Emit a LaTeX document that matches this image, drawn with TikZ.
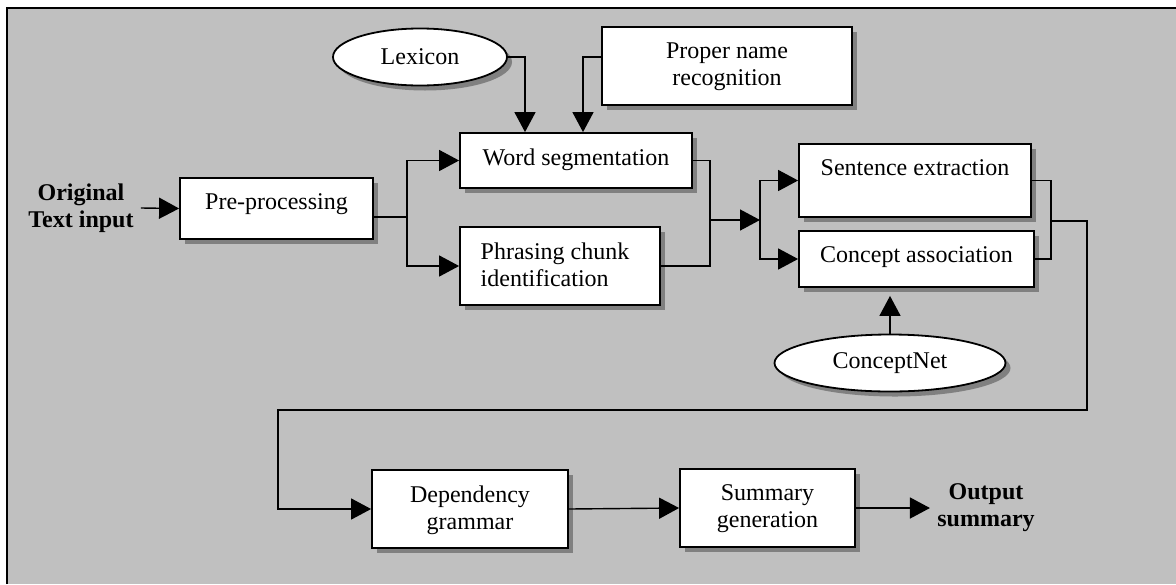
\documentclass[tikz,border=0pt]{standalone}
\usepackage{fontspec}
\setmainfont{Liberation Serif}
\usetikzlibrary{arrows.meta,shapes.geometric,shadows}
\definecolor{panel}{HTML}{C0C0C0}

\begin{document}
\begin{tikzpicture}[x=0.5pt, y=-0.5pt,
  every node/.style={font=\fontsize{12}{13.5}\selectfont},
  shade box/.style={drop shadow={shadow xshift=2.5pt, shadow yshift=-2.5pt, fill=black!50, opacity=1}},
  box/.style={draw, line width=0.9pt, fill=white, inner sep=0pt, shade box},
  oval/.style={ellipse, draw, line width=0.9pt, fill=white, inner sep=0pt, shade box},
  txt/.style={anchor=north, yshift=-8pt, inner sep=0pt, align=center},
  io/.style={font=\fontsize{12}{13.5}\selectfont\bfseries, align=center, inner sep=3.5pt},
  link/.style={line width=0.7pt},
  arr/.style={link, -{Triangle[length=10pt,width=10.5pt]}}]
\useasboundingbox (0,0) rectangle (1176,584);
% Panel
\fill[panel] (7,8) rectangle (1176,584);
\draw[line width=1pt] (7,584) -- (7,8) -- (1176,8);
% Input and first stage
\node[io] (src) at (81,208) {Original\\Text input};
\node[box, minimum width=96.5pt, minimum height=30.5pt, label={[txt]north:Pre-processing}] (pre) at (276.5,208.5) {};
% Resources
\node[oval, minimum width=87pt, minimum height=28.5pt] (lex) at (420,57) {Lexicon};
\node[box, minimum width=125pt, minimum height=39pt, label={[txt]north:Proper name\\recognition}] (pnr) at (727,66) {};
% Segmentation stage
\node[box, minimum width=116pt, minimum height=27.5pt, label={[txt]north:Word segmentation}] (ws) at (576,160.5) {};
\node[box, minimum width=100pt, minimum height=39pt, label={[txt, align=left, xshift=-2.5pt]north:Phrasing chunk\\identification}] (pci) at (560,266) {};
% Extraction stage
\node[box, minimum width=116pt, minimum height=36.5pt, label={[txt]north:Sentence extraction}] (se) at (915,180.5) {};
\node[box, minimum width=117.5pt, minimum height=28pt, label={[txt]north:Concept association}] (ca) at (916.5,259) {};
\node[oval, minimum width=115.5pt, minimum height=28.5pt] (cn) at (890,363) {ConceptNet};
% Final stage
\node[box, minimum width=98pt, minimum height=39pt, label={[txt]north:Dependency\\grammar}] (dg) at (470,509) {};
\node[box, minimum width=87.5pt, minimum height=39pt, label={[txt]north:Summary\\generation}] (sg) at (767.5,508) {};
\node[io] (outp) at (986,508) {Output\\summary};
% Junctions
\coordinate (b1) at (407,217);
\coordinate (j1) at (710,220);
\coordinate (j2) at (760,220);
\coordinate (j3) at (1051,221);
\coordinate (turn1) at (1087,221);
\coordinate (turn2) at (278,410);
% Connectors
\draw[arr] (src.east) -- (pre.west);
\draw[arr] (pre.east |- b1) -- (b1) |- (ws.west);
\draw[arr] (b1) |- (pci.west);
\draw[arr] (lex.east) -| ([xshift=-25.5pt]ws.north);
\draw[arr] ([yshift=4.5pt]pnr.west) -| ([xshift=3.5pt]ws.north);
\draw[link] (ws.east) -| (j1) |- (pci.east);
\draw[arr] (j1) -- (j2);
\draw[arr] (j2) |- (se.west);
\draw[arr] (j2) |- (ca.west);
\draw[arr, shorten >=4pt] (cn.north) -- (cn.north |- ca.south);
\draw[link] (se.east) -| (j3) |- (ca.east);
\draw[arr] (j3) -- (turn1) |- (turn2) |- (dg.west);
\draw[arr] (dg.east) -- (sg.west);
\draw[arr] (sg.east) -- (outp.west);
\end{tikzpicture}
\end{document}
